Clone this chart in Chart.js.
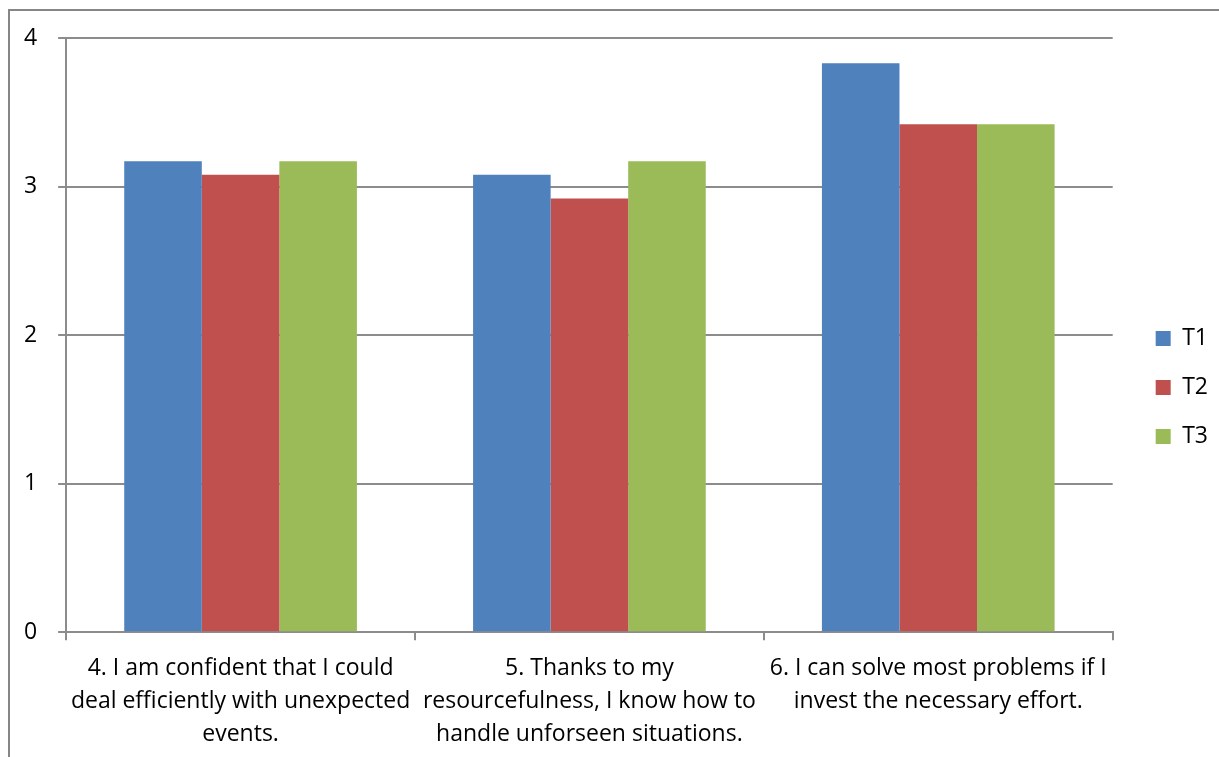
<!DOCTYPE html>
<html lang="en">

<head>
    <meta charset="utf-8">
    <script src="https://cdn.jsdelivr.net/npm/chart.js@4.4.1/dist/chart.umd.min.js"></script>
    <style>
        body { margin: 0; background: #fff; }
        .frame {
            position: absolute; left: 8px; top: 9px; width: 1300px; height: 900px;
            border-left: 2px solid #868686; border-top: 2px solid #868686;
        }
        .chart { position: absolute; left: 0; top: 0; width: 1219px; height: 757px; }
    </style>
</head>

<body>
    <div class="frame"></div>
    <div class="chart">
        <canvas id="myChart"></canvas>
    </div>
</body>

</html>

<script>
    // Survey items (wrapped like the axis labels)
    var categories = [
        ['4. I am confident that I could', 'deal efficiently with unexpected', 'events.'],
        ['5. Thanks to my', 'resourcefulness, I know how to', 'handle unforseen situations.'],
        ['6. I can solve most problems if I', 'invest the necessary effort.']
    ];
    var seriesNames = ['T1', 'T2', 'T3'];
    var t1 = [3.17, 3.08, 3.83];
    var t2 = [3.08, 2.92, 3.42];
    var t3 = [3.17, 3.17, 3.42];
    var colors = ['#4F81BD', '#C0504D', '#9BBB59'];
    var yTicks = [0, 1, 2, 3, 4];

    var font = "'Open Sans', 'Liberation Sans', sans-serif";
    var gridColor = '#8c8c8c';

    // push the legend a bit further from the plot and a bit higher up
    var legendShift = {
        id: 'legendShift',
        afterLayout: function (chart) {
            chart.legend.left += 17;
            chart.legend.right += 17;
            chart.legend.top -= 13;
            chart.legend.bottom -= 13;
        }
    };

    var ctx = document.getElementById('myChart').getContext('2d');
    var myChart = new Chart(ctx, {
        type: 'bar',
        data: {
            labels: categories,
            datasets: [t1, t2, t3].map(function (vals, i) {
                return {
                    label: seriesNames[i],
                    data: vals,
                    backgroundColor: colors[i],
                    borderWidth: 0,
                    categoryPercentage: 0.667,
                    barPercentage: 1.0
                };
            })
        },
        plugins: [legendShift],
        options: {
            responsive: true,
            maintainAspectRatio: false,
            animation: false,
            layout: { padding: { left: 3, top: 38, right: 18, bottom: -6 } },
            plugins: {
                tooltip: { enabled: false },
                legend: {
                    position: 'right',
                    labels: {
                        boxWidth: 15,
                        boxHeight: 15,
                        padding: 26,
                        color: '#000',
                        font: { family: font, size: 23 }
                    }
                }
            },
            scales: {
                x: {
                    offset: true,
                    grid: {
                        offset: true,
                        drawOnChartArea: false,
                        tickLength: 8,
                        color: gridColor,
                        lineWidth: 2
                    },
                    border: { color: gridColor, width: 2 },
                    ticks: {
                        color: '#000',
                        padding: 12,
                        maxRotation: 0,
                        autoSkip: false,
                        font: { family: font, size: 23, lineHeight: 1.43 }
                    }
                },
                y: {
                    min: 0,
                    max: 4,
                    afterBuildTicks: function (axis) {
                        axis.ticks = yTicks.map(function (v) { return { value: v }; });
                    },
                    grid: {
                        tickLength: 8,
                        color: gridColor,
                        lineWidth: 2
                    },
                    border: { color: gridColor, width: 2 },
                    ticks: {
                        color: '#000',
                        padding: 21,
                        font: { family: font, size: 23 }
                    }
                }
            }
        }
    });
</script>
